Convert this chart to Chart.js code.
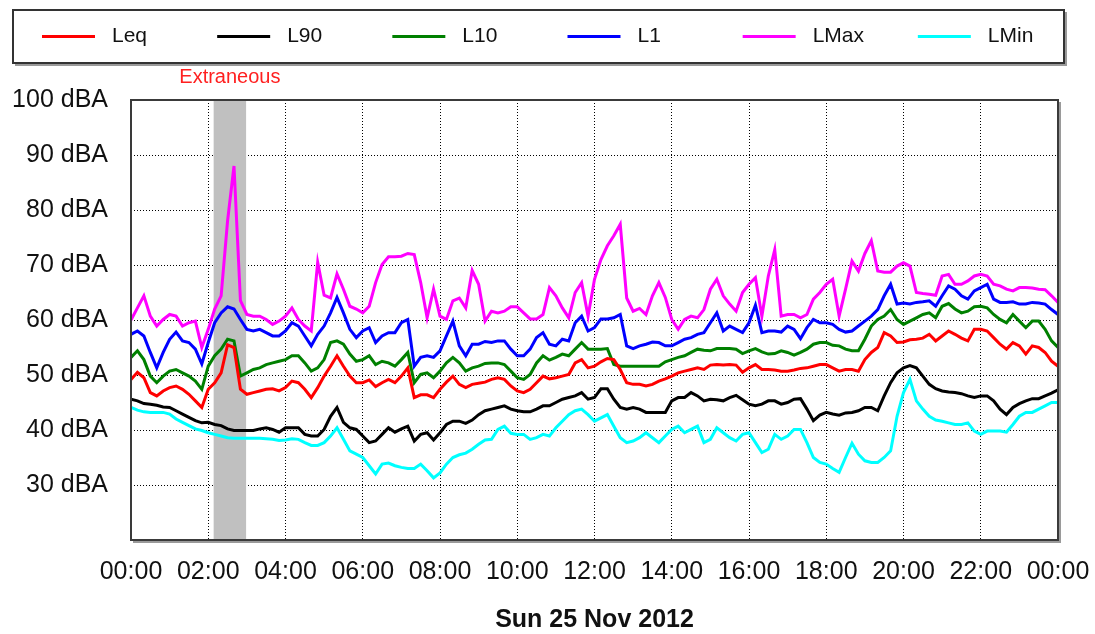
<!DOCTYPE html>
<html>
<head>
<meta charset="utf-8">
<script src="https://cdn.jsdelivr.net/npm/chart.js@4/dist/chart.umd.min.js"></script>
<style>
  html, body { margin: 0; padding: 0; background: #fff; }
  #wrap { width: 1095px; height: 634px; }
</style>
</head>
<body>
<div id="wrap"><canvas id="noise" width="1095" height="634"></canvas></div>
<script>
// Sound level log, Sun 25 Nov 2012, one reading every 10 minutes
const stepMinutes = 10;
const hours = Array.from({ length: 145 }, (_, i) => i * stepMinutes / 60);

const seriesNames = ['Leq', 'L90', 'L10', 'L1', 'LMax', 'LMin'];
const seriesColors = ['#ff0000', '#000000', '#008000', '#0000ff', '#ff00ff', '#00ffff'];

const leq = [
  49.2, 50.5, 49.5, 46.8, 46.2, 47.1, 47.7, 48.0, 47.4, 46.5, 45.3, 44.1,
  47.4, 48.6, 50.4, 55.5, 55.0, 47.4, 46.5, 46.8, 47.1, 47.4, 47.5, 47.1,
  47.7, 48.9, 48.6, 47.4, 45.9, 47.7, 49.8, 51.6, 53.5, 51.6, 49.8, 48.6,
  48.6, 49.1, 47.9, 48.6, 49.2, 48.6, 49.8, 51.3, 45.9, 46.4, 46.4, 45.9,
  47.4, 48.7, 49.8, 48.3, 47.7, 48.3, 48.5, 48.7, 49.2, 49.5, 49.2, 48.0,
  47.1, 46.8, 47.4, 48.6, 49.8, 49.3, 49.5, 49.8, 50.1, 52.2, 52.8, 51.3,
  51.6, 52.4, 53.0, 52.8, 51.0, 48.6, 48.3, 48.3, 48.0, 48.3, 48.9, 49.3,
  49.8, 50.4, 50.7, 51.0, 51.3, 51.0, 51.8, 51.9, 51.8, 51.9, 51.8, 50.5,
  51.3, 51.9, 51.0, 51.0, 50.9, 50.7, 50.7, 50.9, 51.2, 51.3, 51.6, 51.9,
  51.9, 51.3, 50.7, 51.0, 51.0, 50.7, 52.8, 54.1, 55.0, 57.7, 57.1, 55.9,
  56.0, 56.4, 56.5, 56.7, 57.4, 56.2, 57.1, 58.0, 57.4, 56.7, 56.2, 58.3,
  58.3, 58.0, 56.8, 55.6, 54.7, 55.9, 55.3, 53.8, 55.3, 55.0, 54.1, 52.5,
  51.6
];

const l90 = [
  45.6, 45.3, 44.8, 44.7, 44.5, 44.2, 44.1, 43.5, 42.9, 42.3, 41.7, 41.3,
  41.4, 41.0, 40.8, 40.2, 39.9, 39.9, 39.9, 39.9, 40.2, 40.4, 40.1, 39.6,
  40.4, 40.4, 40.4, 39.2, 38.9, 38.9, 40.1, 42.5, 44.1, 41.4, 40.4, 40.1,
  38.9, 37.7, 38.0, 39.2, 40.4, 39.6, 40.2, 40.7, 38.0, 39.2, 39.5, 38.2,
  39.5, 41.0, 41.6, 41.6, 41.2, 41.8, 42.8, 43.5, 43.8, 44.1, 44.4, 43.8,
  43.5, 43.3, 43.3, 43.8, 44.4, 44.4, 45.0, 45.6, 45.9, 46.2, 46.8, 45.6,
  45.9, 47.5, 47.5, 45.6, 44.1, 43.8, 44.1, 43.8, 43.2, 43.2, 43.2, 43.2,
  45.3, 45.9, 45.9, 46.8, 46.2, 45.3, 45.6, 45.5, 45.3, 45.9, 46.3, 45.5,
  44.7, 44.4, 44.7, 45.3, 45.3, 44.7, 45.0, 45.6, 45.7, 43.8, 41.7, 42.7,
  43.2, 42.9, 42.7, 43.1, 43.2, 43.5, 44.1, 44.1, 43.5, 46.2, 48.6, 50.4,
  51.3, 51.7, 51.3, 49.8, 48.3, 47.5, 47.1, 46.9, 46.8, 46.6, 46.2, 45.9,
  46.2, 46.2, 45.3, 43.8, 42.8, 44.1, 44.8, 45.3, 45.7, 45.7, 46.2, 46.7,
  47.3
];

const l10 = [
  53.2, 54.4, 52.8, 49.8, 48.6, 49.8, 50.7, 51.0, 50.4, 49.8, 48.9, 47.4,
  51.6, 53.5, 54.7, 56.5, 56.2, 49.8, 50.4, 51.0, 51.3, 51.9, 52.2, 52.5,
  52.8, 53.5, 53.5, 52.2, 50.7, 51.3, 52.8, 55.9, 56.2, 55.6, 53.8, 52.5,
  52.8, 53.5, 51.9, 52.5, 52.2, 51.6, 52.8, 54.1, 48.6, 50.1, 50.4, 49.5,
  50.7, 52.2, 53.2, 52.2, 50.7, 51.3, 51.6, 52.1, 52.2, 52.2, 51.9, 50.7,
  49.5, 49.2, 50.1, 52.2, 53.5, 52.7, 53.2, 53.8, 53.5, 54.7, 55.9, 54.7,
  54.7, 54.7, 54.8, 51.9, 51.6, 51.6, 51.6, 51.6, 51.6, 51.6, 51.6, 52.4,
  52.8, 53.2, 53.5, 54.1, 54.7, 54.5, 54.4, 54.8, 54.8, 54.8, 54.7, 53.9,
  54.4, 54.8, 54.2, 53.8, 53.9, 54.4, 54.1, 53.6, 54.1, 54.7, 55.6, 55.9,
  55.9, 55.4, 55.3, 54.7, 54.4, 54.4, 56.5, 58.9, 60.1, 60.7, 61.9, 60.1,
  59.2, 59.8, 60.4, 61.0, 61.3, 60.4, 62.5, 63.0, 62.0, 61.3, 61.6, 62.4,
  62.5, 62.2, 61.0, 60.1, 59.5, 61.0, 59.8, 58.6, 59.8, 59.8, 58.3, 56.2,
  55.0
];

const l1 = [
  57.4, 58.0, 57.1, 54.1, 51.3, 54.1, 56.5, 57.8, 56.2, 55.9, 54.7, 52.0,
  55.9, 59.5, 61.3, 62.4, 62.0, 60.1, 58.3, 58.0, 58.3, 57.7, 57.1, 57.1,
  58.0, 59.5, 58.9, 57.1, 55.3, 57.4, 58.9, 61.3, 64.1, 61.3, 58.3, 56.8,
  58.0, 58.6, 55.9, 57.1, 57.7, 57.7, 59.5, 60.1, 51.6, 53.2, 53.5, 53.2,
  54.4, 57.1, 59.8, 55.3, 53.5, 55.6, 55.6, 56.1, 55.9, 56.2, 56.2, 54.7,
  53.5, 53.5, 54.7, 56.8, 57.7, 55.6, 55.3, 56.5, 56.2, 59.5, 60.7, 58.0,
  58.6, 60.2, 60.2, 60.4, 61.0, 55.3, 54.8, 55.3, 55.6, 56.0, 55.9, 55.3,
  55.3, 55.9, 56.5, 56.8, 57.4, 57.7, 59.5, 61.3, 58.0, 58.9, 58.3, 57.7,
  59.5, 62.7, 57.7, 58.0, 58.0, 57.8, 58.9, 58.3, 56.6, 58.6, 60.1, 59.5,
  59.5, 59.2, 58.3, 57.8, 58.0, 58.9, 59.8, 60.7, 61.9, 64.4, 66.5, 62.9,
  63.1, 62.9, 63.2, 63.3, 63.5, 62.5, 64.4, 66.2, 65.6, 64.4, 63.8, 65.3,
  65.9, 66.5, 63.8, 63.2, 63.2, 63.3, 62.9, 62.9, 63.2, 63.1, 62.9, 61.9,
  61.0
];

const lMax = [
  60.0, 62.2, 64.4, 60.7, 58.9, 60.1, 61.0, 60.7, 58.9, 59.5, 59.8, 55.0,
  58.3, 62.0, 64.4, 78.0, 88.0, 63.5, 61.0, 60.7, 60.7, 60.1, 59.2, 59.8,
  60.7, 62.2, 60.1, 58.9, 58.0, 70.5, 64.5, 64.0, 68.4, 65.6, 62.5, 62.0,
  61.3, 62.5, 66.8, 70.1, 71.5, 71.5, 71.6, 72.1, 71.9, 66.8, 60.4, 65.6,
  60.7, 60.1, 63.5, 64.0, 62.2, 69.0, 66.5, 59.8, 61.6, 61.3, 61.6, 62.4,
  62.4, 61.3, 60.2, 60.2, 61.0, 65.9, 64.4, 62.2, 60.4, 65.0, 66.8, 60.7,
  67.4, 71.0, 73.5, 75.3, 77.4, 64.0, 61.6, 62.1, 61.0, 64.4, 66.8, 64.1,
  60.1, 58.3, 60.1, 60.7, 60.4, 61.9, 65.6, 67.4, 64.4, 62.9, 61.6, 65.0,
  66.5, 67.7, 60.7, 68.0, 72.8, 60.7, 61.0, 61.0, 60.4, 61.0, 63.8, 65.0,
  66.5, 67.4, 60.7, 65.6, 70.7, 68.9, 72.1, 74.4, 68.9, 68.7, 68.7, 69.8,
  70.4, 69.8, 65.0, 64.8, 64.7, 64.5, 68.0, 68.3, 66.5, 66.5, 67.1, 68.0,
  68.3, 68.0, 66.5, 66.2, 65.6, 65.3, 65.9, 65.9, 65.8, 65.6, 65.5, 64.4,
  63.2
];

const lMin = [
  44.1, 43.6, 43.3, 43.2, 43.2, 43.2, 42.9, 42.0, 41.4, 40.8, 40.2, 39.9,
  39.5, 39.2, 38.9, 38.6, 38.5, 38.5, 38.5, 38.5, 38.5, 38.4, 38.3, 38.1,
  38.2, 38.4, 38.3, 37.7, 37.2, 37.2, 37.7, 38.9, 40.4, 38.3, 36.2, 35.6,
  35.0, 33.5, 32.0, 33.8, 34.0, 33.5, 33.2, 33.0, 33.0, 33.8, 32.6, 31.3,
  32.2, 33.8, 35.0, 35.5, 35.8, 36.5, 37.4, 38.2, 38.3, 40.1, 40.7, 39.4,
  39.2, 39.2, 38.3, 38.6, 39.2, 38.9, 40.4, 41.6, 42.8, 43.5, 43.8, 42.8,
  41.6, 42.2, 42.8, 40.7, 38.6, 37.7, 38.0, 38.6, 39.5, 38.6, 37.7, 38.9,
  40.1, 40.7, 39.5, 40.1, 40.7, 37.7, 38.3, 40.4, 39.5, 38.6, 38.0, 39.2,
  39.5, 37.7, 35.9, 36.5, 39.2, 38.3, 38.9, 40.1, 40.1, 37.7, 35.0, 34.1,
  33.8, 33.0, 32.3, 35.0, 37.6, 35.6, 34.4, 34.1, 34.1, 35.0, 36.2, 42.5,
  46.8, 49.2, 45.3, 43.8, 42.5, 41.8, 41.6, 41.3, 41.0, 41.0, 41.3, 39.8,
  39.2, 39.8, 39.8, 39.8, 39.6, 41.0, 42.5, 43.2, 43.2, 43.8, 44.4, 45.0,
  45.0
];

// Period marked as extraneous (hours)
const extraneousStart = 2.14;
const extraneousEnd = 2.98;
const extraneousLabel = 'Extraneous';

const xTitle = 'Sun 25 Nov 2012';
const fontFamily = '"Liberation Sans", Arial, sans-serif';

const allSeries = [leq, l90, l10, l1, lMax, lMin];

// Grey band behind the lines, with its red caption above the plot
const extraneousBand = {
  id: 'extraneousBand',
  beforeDatasetsDraw(chart) {
    const { ctx, chartArea, scales } = chart;
    const x1 = scales.x.getPixelForValue(extraneousStart);
    const x2 = scales.x.getPixelForValue(extraneousEnd);
    ctx.save();
    ctx.fillStyle = '#c0c0c0';
    ctx.fillRect(x1, chartArea.top, x2 - x1, chartArea.bottom - chartArea.top);
    ctx.restore();
  },
  afterDraw(chart) {
    const { ctx, scales } = chart;
    const xm = (scales.x.getPixelForValue(extraneousStart) + scales.x.getPixelForValue(extraneousEnd)) / 2;
    ctx.save();
    ctx.font = '20px ' + fontFamily;
    ctx.fillStyle = '#ff2020';
    ctx.textAlign = 'center';
    ctx.textBaseline = 'middle';
    ctx.fillText(extraneousLabel, xm, 77);
    ctx.restore();
  }
};

// Frame round the plot and the boxed legend at the top
const frameAndLegend = {
  id: 'frameAndLegend',
  afterDraw(chart) {
    const { ctx, chartArea } = chart;
    ctx.save();

    // plot frame
    ctx.strokeStyle = '#3a3a3a';
    ctx.lineWidth = 2;
    ctx.strokeRect(chartArea.left, chartArea.top, chartArea.right - chartArea.left, chartArea.bottom - chartArea.top);
    ctx.strokeStyle = '#9a9a9a';
    ctx.beginPath();
    ctx.moveTo(chartArea.right + 2, chartArea.top + 2);
    ctx.lineTo(chartArea.right + 2, chartArea.bottom + 2);
    ctx.lineTo(chartArea.left + 2, chartArea.bottom + 2);
    ctx.stroke();

    // legend box
    const bx = 13, by = 10, bw = 1051, bh = 53;
    ctx.strokeStyle = '#333';
    ctx.lineWidth = 2;
    ctx.strokeRect(bx, by, bw, bh);
    ctx.strokeStyle = '#9a9a9a';
    ctx.beginPath();
    ctx.moveTo(bx + bw + 2, by + 2);
    ctx.lineTo(bx + bw + 2, by + bh + 2);
    ctx.lineTo(bx + 2, by + bh + 2);
    ctx.stroke();

    const slot = bw / chart.data.datasets.length;
    const yMid = by + bh / 2;
    ctx.font = '21px ' + fontFamily;
    ctx.textAlign = 'left';
    ctx.textBaseline = 'middle';
    chart.data.datasets.forEach((ds, i) => {
      const x0 = bx + slot * i + 29;
      ctx.strokeStyle = ds.borderColor;
      ctx.lineWidth = 3;
      ctx.beginPath();
      ctx.moveTo(x0, yMid);
      ctx.lineTo(x0 + 53, yMid);
      ctx.stroke();
      ctx.fillStyle = '#111';
      ctx.fillText(ds.label, x0 + 70, yMid);
    });
    ctx.restore();
  }
};

const datasets = seriesNames.map((name, i) => ({
  label: name,
  data: allSeries[i],
  borderColor: seriesColors[i],
  backgroundColor: seriesColors[i],
  borderWidth: 3,
  pointRadius: 0,
  tension: 0,
  fill: false
}));

new Chart(document.getElementById('noise'), {
  type: 'line',
  data: { labels: hours, datasets: datasets },
  options: {
    responsive: false,
    animation: false,
    devicePixelRatio: 1,
    layout: { padding: { top: 100, right: 37, left: 0, bottom: 0 } },
    plugins: {
      legend: { display: false },
      tooltip: { enabled: false }
    },
    scales: {
      x: {
        type: 'linear',
        min: 0,
        max: 24,
        // fixed axis height, and no extra room asked for the last label
        afterFit(axis) {
          axis.height = 94;
          axis.paddingLeft = 0;
          axis.paddingRight = 0;
        },
        grid: { color: '#000', lineWidth: 1, drawTicks: false },
        border: { display: false, dash: [1, 2] },
        ticks: {
          stepSize: 2,
          autoSkip: false,
          maxRotation: 0,
          padding: 17,
          color: '#111',
          font: { size: 25, family: fontFamily },
          callback: v => String(v % 24).padStart(2, '0') + ':00'
        },
        title: {
          display: true,
          text: xTitle,
          color: '#111',
          padding: { top: 0, bottom: 0 },
          font: { size: 25, weight: 'bold', family: fontFamily, lineHeight: 1.1 }
        }
      },
      y: {
        min: 20,
        max: 100,
        afterFit(axis) {
          axis.width = 131;
          axis.paddingTop = 0;
          axis.paddingBottom = 0;
        },
        grid: { color: '#000', lineWidth: 1, drawTicks: false },
        border: { display: false, dash: [1, 2] },
        ticks: {
          stepSize: 10,
          padding: 23,
          color: '#111',
          font: { size: 25, family: fontFamily },
          callback: v => (v === 20 ? '' : v + ' dBA')
        }
      }
    }
  },
  plugins: [extraneousBand, frameAndLegend]
});
</script>
</body>
</html>
